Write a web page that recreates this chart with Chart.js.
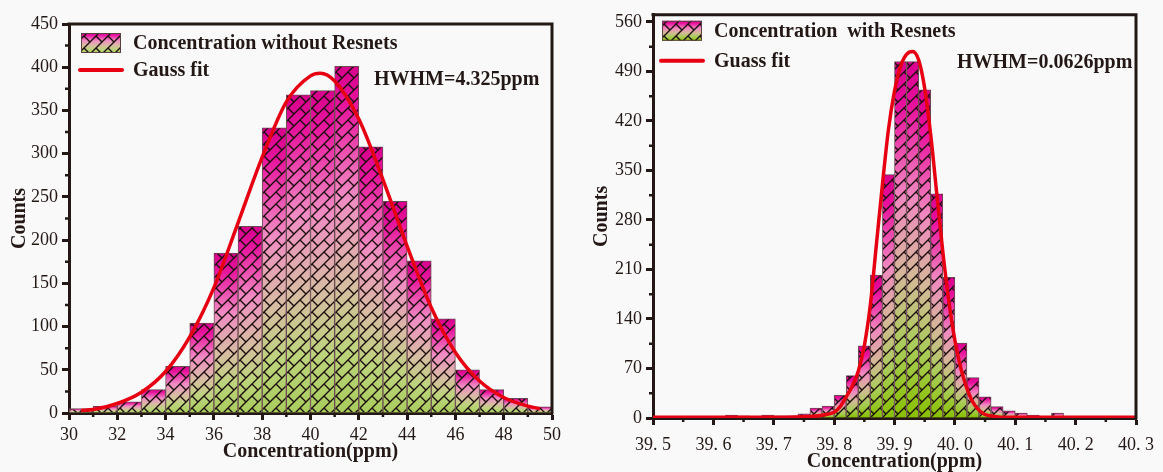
<!DOCTYPE html>
<html>
<head>
<meta charset="utf-8">
<script src="https://cdn.jsdelivr.net/npm/chart.js@4.4.1/dist/chart.umd.min.js"></script>
<style>
html, body { margin: 0; padding: 0; background: #f9f9f9; overflow: hidden; width: 1163px; height: 472px; }
.box { position: absolute; top: 0; }
#left { left: 0; }
#right { left: 580px; }
</style>
</head>
<body>
<div class="box" id="left"><canvas id="c1" width="580" height="472"></canvas></div>
<div class="box" id="right"><canvas id="c2" width="583" height="480"></canvas></div>
<script>
// --------------------------- Data: without Resnets ---------------------------
const binStartsA = [30, 31, 32, 33, 34, 35, 36, 37, 38, 39, 40, 41, 42, 43, 44, 45, 46, 47, 48, 49];
const binWidthA = 1;
const countsA = [5, 8, 13, 27, 54, 104, 185, 216, 330, 368, 373, 401, 308, 245, 176, 109, 50, 27, 17, 7];
const fitXA = [30.5, 31, 32, 33, 34, 35, 36, 37, 38, 39, 40, 40.4, 41, 42, 43, 44, 45, 46, 47, 48, 49, 49.5];
const fitYA = [3, 4, 11, 24, 48, 88, 145, 220, 296, 360, 390, 393, 384, 340, 270, 193, 122, 70, 37, 18, 8, 5];
const xTicksA = [30, 32, 34, 36, 38, 40, 42, 44, 46, 48, 50];
const xMinorA = [31, 33, 35, 37, 39, 41, 43, 45, 47, 49];
const yTicksA = [0, 50, 100, 150, 200, 250, 300, 350, 400, 450];
const yMinorA = [25, 75, 125, 175, 225, 275, 325, 375, 425];

// --------------------------- Data: with Resnets ---------------------------
const binStartsB = [39.50, 39.52, 39.54, 39.56, 39.58, 39.60, 39.62, 39.64, 39.66, 39.68,
	39.70, 39.72, 39.74, 39.76, 39.78, 39.80, 39.82, 39.84, 39.86, 39.88,
	39.90, 39.92, 39.94, 39.96, 39.98, 40.00, 40.02, 40.04, 40.06, 40.08,
	40.10, 40.12, 40.14, 40.16, 40.18, 40.20, 40.22, 40.24, 40.26, 40.28];
const binWidthB = 0.02;
const countsB = [0, 0, 0, 0, 0, 0, 4, 3, 0, 4,
	3, 3, 6, 14, 17, 32, 60, 102, 202, 344,
	504, 504, 464, 317, 199, 106, 57, 30, 16, 10,
	7, 4, 2, 7, 1, 1, 1, 0, 1, 1];
const fitXB = [39.5, 39.7, 39.76, 39.78, 39.80, 39.81, 39.82, 39.83, 39.84, 39.85, 39.86, 39.87, 39.88, 39.89,
	39.90, 39.91, 39.92, 39.93, 39.94, 39.95, 39.96, 39.97, 39.98, 39.99, 40.00, 40.01, 40.02, 40.03,
	40.04, 40.05, 40.06, 40.08, 40.3];
const fitYB = [1, 1, 2, 4, 8, 16, 30, 45, 66, 102, 160, 245, 330, 408,
	462, 497, 514, 518, 506, 466, 400, 317, 235, 165, 110, 70, 42, 22,
	11, 5, 3, 1, 1];
const xTicksB = [39.5, 39.6, 39.7, 39.8, 39.9, 40.0, 40.1, 40.2, 40.3];
const xTickLabelsB = ["39. 5", "39. 6", "39. 7", "39. 8", "39. 9", "40. 0", "40. 1", "40. 2", "40. 3"];
const xMinorB = [39.55, 39.65, 39.75, 39.85, 39.95, 40.05, 40.15, 40.25];
const yTicksB = [0, 70, 140, 210, 280, 350, 420, 490, 560];
const yMinorB = [35, 105, 175, 245, 315, 385, 455, 525];

// --------------------------- Styles ---------------------------
const ink = "#231815";
const serif = "'Liberation Serif', 'DejaVu Serif', serif";
const stopsA = [[0, "#d8008c"], [0.12, "#e8189e"], [0.38, "#f08cc4"], [0.62, "#d8bca4"], [0.82, "#bcd47c"], [1, "#a8cc5c"]];
const stopsB = [[0, "#d8008c"], [0.12, "#e8109c"], [0.38, "#f088c0"], [0.6, "#d4b898"], [0.8, "#a8cc58"], [1, "#88c000"]];

function makeGradient(ctx, top, bottom, stops) {
	const g = ctx.createLinearGradient(0, top, 0, bottom);
	stops.forEach(([p, c]) => g.addColorStop(p, c));
	return g;
}

// diagonal brick lattice used as hatch over the bars
function makePattern(ctx) {
	const t = document.createElement("canvas");
	t.width = 24;
	t.height = 24;
	const g = t.getContext("2d");
	g.strokeStyle = "rgba(28,14,14,1)";
	g.lineWidth = 1.4;
	g.beginPath();
	[0, 12, 24, 36, 48].forEach((k) => {
		g.moveTo(k + 2, -2);
		g.lineTo(-2, k + 2);
	});
	[[0, 0], [12, 12], [12, 0], [0, 12]].forEach(([x, y]) => {
		g.moveTo(x - 0.5, y - 0.5);
		g.lineTo(x + 6.5, y + 6.5);
	});
	g.stroke();
	return ctx.createPattern(t, "repeat");
}

function barColor(stops) {
	return (c) => {
		const ys = c.chart.scales.y;
		if (c.type !== "data" || !ys) return stops[0][1];
		const top = ys.getPixelForValue(c.parsed.y);
		const base = ys.getPixelForValue(0);
		if (!(base - top > 0.5)) return stops[stops.length - 1][1];
		return makeGradient(c.chart.ctx, top, base, stops);
	};
}

// --------------------------- Overlay plugin ---------------------------
const overlay = {
	id: "overlay",
	afterDatasetDraw(chart, args, opts) {
		if (args.meta.type !== "bar") return;
		const ctx = chart.ctx;
		if (!chart.$pattern) chart.$pattern = makePattern(ctx);
		ctx.save();
		args.meta.data.forEach((el) => {
			const { x, y, base, width } = el.getProps(["x", "y", "base", "width"], true);
			if (base - y < 1) return;
			ctx.save();
			ctx.beginPath();
			ctx.rect(x - width / 2 + 0.5, y + 0.5, width - 1, base - y - 0.5);
			ctx.clip();
			ctx.fillStyle = chart.$pattern;
			ctx.fill();
			ctx.restore();
		});
		ctx.restore();
	},
	afterDraw(chart, args, opts) {
		const ctx = chart.ctx;
		const a = chart.chartArea;
		const xs = chart.scales.x;
		const ys = chart.scales.y;
		ctx.save();
		// frame top / right
		ctx.strokeStyle = ink;
		ctx.lineWidth = 3;
		ctx.beginPath();
		ctx.moveTo(a.left - 1.5, a.top);
		ctx.lineTo(a.right, a.top);
		ctx.lineTo(a.right, a.bottom + 1.5);
		ctx.stroke();
		// minor ticks
		ctx.lineWidth = 2.5;
		ctx.beginPath();
		opts.minorX.forEach((v) => {
			const px = xs.getPixelForValue(v);
			ctx.moveTo(px, a.bottom);
			ctx.lineTo(px, a.bottom + 4);
		});
		opts.minorY.forEach((v) => {
			const py = ys.getPixelForValue(v);
			ctx.moveTo(a.left, py);
			ctx.lineTo(a.left - 4, py);
		});
		ctx.stroke();
		// legend
		const ds = chart.data.datasets;
		const lx = a.left + opts.legendX;
		const ly = a.top + opts.legendY;
		ctx.fillStyle = makeGradient(ctx, ly, ly + 20, opts.stops);
		ctx.fillRect(lx, ly, 40, 20);
		if (!chart.$pattern) chart.$pattern = makePattern(ctx);
		ctx.fillStyle = chart.$pattern;
		ctx.fillRect(lx, ly, 40, 20);
		ctx.strokeStyle = "#5a4040";
		ctx.lineWidth = 1;
		ctx.strokeRect(lx + 0.5, ly + 0.5, 39, 19);
		ctx.strokeStyle = ds[1].borderColor;
		ctx.lineWidth = 4;
		ctx.lineCap = "round";
		ctx.beginPath();
		ctx.moveTo(lx - 1, ly + opts.rowGap + 10);
		ctx.lineTo(lx + 41, ly + opts.rowGap + 10);
		ctx.stroke();
		ctx.fillStyle = ink;
		ctx.font = "bold 20px " + serif;
		ctx.textBaseline = "middle";
		ctx.fillText(ds[0].label, lx + opts.textGap, ly + 11);
		ctx.fillText(ds[1].label, lx + opts.textGap, ly + opts.rowGap + 11);
		ctx.fillText(opts.note, a.left + opts.noteX, a.top + opts.noteY);
		ctx.restore();
	},
};

function buildChart(canvasId, cfg) {
	const tickFont = { family: serif, size: 18 };
	const titleFont = { family: serif, size: 20, weight: "bold" };
	return new Chart(document.getElementById(canvasId), {
		type: "bar",
		data: {
			datasets: [
				{
					type: "bar",
					label: cfg.barLabel,
					data: cfg.starts.map((s, i) => ({ x: s + cfg.width / 2, y: cfg.counts[i] })),
					backgroundColor: barColor(cfg.stops),
					borderColor: "#6a4a50",
					borderWidth: 1,
					barPercentage: 1,
					categoryPercentage: 1,
					order: 2,
				},
				{
					type: "line",
					label: cfg.fitLabel,
					data: cfg.fitX.map((x, i) => ({ x, y: cfg.fitY[i] })),
					borderColor: "#e60012",
					borderWidth: 3.5,
					pointRadius: 0,
					cubicInterpolationMode: "monotone",
					fill: false,
					order: 1,
				},
			],
		},
		options: {
			responsive: false,
			animation: false,
			devicePixelRatio: 1,
			layout: { padding: cfg.padding },
			scales: {
				x: {
					type: "linear",
					min: cfg.xMin,
					max: cfg.xMax,
					offset: false,
					afterBuildTicks: (s) => { s.ticks = cfg.xTicks.map((v) => ({ value: v })); },
					afterFit: (s) => { s.height = cfg.xHeight; },
					ticks: {
						font: tickFont,
						color: ink,
						padding: cfg.xPad,
						maxRotation: 0,
						autoSkip: false,
						callback: (v, i) => cfg.xLabels[i],
					},
					grid: { drawOnChartArea: false, offset: false, tickLength: 7, tickWidth: 3, color: ink },
					border: { width: 3, color: ink },
					title: { display: true, text: "Concentration(ppm)", font: titleFont, color: ink, padding: { top: 0, bottom: cfg.xTitlePad } },
				},
				y: {
					min: 0,
					max: cfg.yMax,
					afterBuildTicks: (s) => { s.ticks = cfg.yTicks.map((v) => ({ value: v })); },
					afterFit: (s) => { s.width = cfg.yWidth; },
					ticks: { font: tickFont, color: ink, padding: 4 },
					grid: { drawOnChartArea: false, tickLength: 7, tickWidth: 3, color: ink },
					border: { width: 3, color: ink },
					title: { display: true, text: "Counts", font: titleFont, color: ink, padding: { top: cfg.yTitlePad, bottom: 0 } },
				},
			},
			plugins: {
				legend: { display: false },
				tooltip: { enabled: false },
				overlay: {
					stops: cfg.stops,
					minorX: cfg.xMinor,
					minorY: cfg.yMinor,
					legendX: cfg.legendX,
					legendY: cfg.legendY,
					rowGap: cfg.rowGap,
					textGap: 52,
					note: cfg.note,
					noteX: cfg.noteX,
					noteY: cfg.noteY,
				},
			},
		},
		plugins: [overlay],
	});
}

buildChart("c1", {
	barLabel: "Concentration without Resnets",
	fitLabel: "Gauss fit",
	starts: binStartsA,
	width: binWidthA,
	counts: countsA,
	fitX: fitXA,
	fitY: fitYA,
	stops: stopsA,
	xMin: 30,
	xMax: 50,
	xTicks: xTicksA,
	xLabels: xTicksA.map(String),
	xMinor: xMinorA,
	yMax: 450,
	yTicks: yTicksA,
	yMinor: yMinorA,
	padding: { top: 24, right: 28, left: 0, bottom: 0 },
	xHeight: 59,
	yWidth: 69,
	xPad: 4,
	xTitlePad: 8,
	yTitlePad: 8,
	legendX: 12,
	legendY: 9,
	rowGap: 27,
	note: "HWHM=4.325ppm",
	noteX: 305,
	noteY: 56,
});

buildChart("c2", {
	barLabel: "Concentration  with Resnets",
	fitLabel: "Guass fit",
	starts: binStartsB,
	width: binWidthB,
	counts: countsB,
	fitX: fitXB,
	fitY: fitYB,
	stops: stopsB,
	xMin: 39.5,
	xMax: 40.3,
	xTicks: xTicksB,
	xLabels: xTickLabelsB,
	xMinor: xMinorB,
	yMax: 570,
	yTicks: yTicksB,
	yMinor: yMinorB,
	padding: { top: 12, right: 20, left: 0, bottom: 0 },
	xHeight: 62,
	yWidth: 73,
	xPad: 9,
	xTitlePad: 6,
	yTitlePad: 10,
	legendX: 9,
	legendY: 6,
	rowGap: 30,
	note: "HWHM=0.0626ppm",
	noteX: 304,
	noteY: 48,
});
</script>
</body>
</html>
